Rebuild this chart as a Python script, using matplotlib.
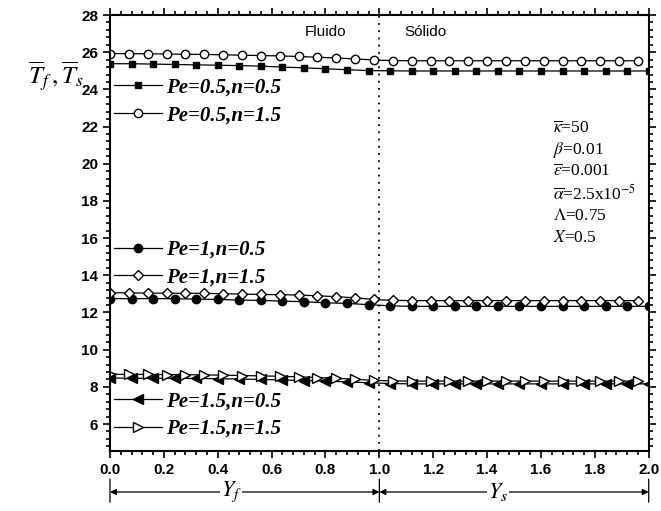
"""
Temperature profiles Tf, Ts across fluid / solid regions.
"""
import matplotlib
matplotlib.use("Agg")
import matplotlib.pyplot as plt
from matplotlib.ticker import MultipleLocator

plt.rcParams["mathtext.fontset"] = "stix"
SANS = "Liberation Sans"; SERIF = "Liberation Serif"

# marker positions (Origin skips points, so two spacings)
x_a = [0.00, 0.08, 0.16, 0.24, 0.32, 0.40, 0.48, 0.56, 0.64, 0.72, 0.80, 0.88, 0.96,
       1.04, 1.12, 1.20, 1.28, 1.36, 1.44, 1.52, 1.60, 1.68, 1.76, 1.84, 1.92, 2.00]
x_b = [0.00, 0.07, 0.14, 0.21, 0.28, 0.35, 0.42, 0.49, 0.56, 0.63, 0.70, 0.77, 0.84,
       0.91, 0.98, 1.05, 1.12, 1.19, 1.26, 1.33, 1.40, 1.47, 1.54, 1.61, 1.68, 1.75,
       1.82, 1.89, 1.96]

t_pe05_n05 = [25.38, 25.38, 25.36, 25.34, 25.32, 25.30, 25.28, 25.25, 25.20, 25.16,
              25.11, 25.06, 25.01, 25.00, 24.99, 24.99, 24.99, 24.99, 24.99, 24.99,
              24.99, 24.99, 24.99, 24.99, 24.99, 24.99]
t_pe05_n15 = [25.93, 25.92, 25.92, 25.90, 25.89, 25.88, 25.86, 25.84, 25.82, 25.80,
              25.77, 25.73, 25.69, 25.64, 25.58, 25.55, 25.54, 25.54, 25.54, 25.54,
              25.54, 25.54, 25.54, 25.54, 25.54, 25.54, 25.54, 25.54, 25.54]
t_pe1_n05 = [12.75, 12.74, 12.75, 12.74, 12.72, 12.70, 12.67, 12.65, 12.61, 12.58,
             12.52, 12.49, 12.42, 12.36, 12.33, 12.33, 12.33, 12.33, 12.33, 12.33,
             12.33, 12.33, 12.33, 12.33, 12.33, 12.33]
t_pe1_n15 = [13.06, 13.06, 13.04, 13.04, 13.03, 13.03, 13.01, 12.99, 12.97, 12.96,
             12.94, 12.90, 12.85, 12.79, 12.70, 12.65, 12.64, 12.64, 12.64, 12.64,
             12.64, 12.64, 12.64, 12.64, 12.64, 12.64, 12.64, 12.64, 12.64]
t_pe15_n05 = [8.48, 8.46, 8.46, 8.46, 8.45, 8.44, 8.42, 8.40, 8.37, 8.34,
              8.31, 8.27, 8.22, 8.18, 8.16, 8.16, 8.16, 8.16, 8.16, 8.16,
              8.16, 8.16, 8.16, 8.16, 8.16, 8.16]
t_pe15_n15 = [8.68, 8.67, 8.67, 8.66, 8.66, 8.64, 8.63, 8.61, 8.59, 8.57,
              8.54, 8.50, 8.46, 8.41, 8.35, 8.32, 8.31, 8.31, 8.31, 8.31,
              8.31, 8.31, 8.31, 8.31, 8.31, 8.31, 8.31, 8.31, 8.31]

labels = ["Pe=0.5,n=0.5", "Pe=0.5,n=1.5", "Pe=1,n=0.5",
          "Pe=1,n=1.5", "Pe=1.5,n=0.5", "Pe=1.5,n=1.5"]

params = [r"$\overline{\kappa}$=50", r"$\beta$=0.01", r"$\overline{\varepsilon}$=0.001",
          r"$\overline{\alpha}$=2.5x10$^{-5}$", r"$\Lambda$=0.75", r"$X$=0.5"]

fig = plt.figure(figsize=(6.61, 5.11), dpi=100)
ax = fig.add_axes([0.1664, 0.1174, 0.815, 0.8532])

kw = dict(color="black", linewidth=0.9)
l1, = ax.plot(x_a, t_pe05_n05, marker="s", ms=5, mfc="black", mec="black", **kw)
l2, = ax.plot(x_b, t_pe05_n15, marker="o", ms=6, mfc="white", mec="black", **kw)
l3, = ax.plot(x_a, t_pe1_n05, marker="o", ms=6, mfc="black", mec="black", **kw)
l4, = ax.plot(x_b, t_pe1_n15, marker="D", ms=5, mfc="white", mec="black", **kw)
l5, = ax.plot(x_a, t_pe15_n05, marker="<", ms=6.5, mfc="black", mec="black", **kw)
l6, = ax.plot(x_b, t_pe15_n15, marker=">", ms=6.5, mfc="white", mec="black", **kw)

ax.set_xlim(0, 2.0)
ax.set_ylim(4.55, 28)
ax.xaxis.set_major_locator(MultipleLocator(0.2))
ax.xaxis.set_minor_locator(MultipleLocator(0.04))
ax.yaxis.set_major_locator(MultipleLocator(2))
ax.yaxis.set_minor_locator(MultipleLocator(0.4))
ax.set_yticks([6, 8, 10, 12, 14, 16, 18, 20, 22, 24, 26, 28])
ax.xaxis.set_major_formatter(lambda v, p: f"{v:.1f}")
ax.tick_params(which="both", direction="out", top=True, right=True, width=1.2)
ax.tick_params(which="major", length=5)
ax.tick_params(which="minor", length=3)
for s in ax.spines.values():
    s.set_linewidth(1.5)
for t in ax.get_xticklabels() + ax.get_yticklabels():
    t.set_fontfamily(SANS); t.set_fontweight("bold"); t.set_fontsize(11)

ax.axvline(1.0, color="black", linestyle=(0, (1, 3)), linewidth=1.3)
ax.text(0.80, 27.1, "Fluido", family=SANS, fontsize=11, ha="center", va="center")
ax.text(1.17, 27.1, "Sólido", family=SANS, fontsize=11, ha="center", va="center")

for i, p in enumerate(params):
    ax.text(1.645, 21.9 - i * 1.18, p, family=SERIF, fontsize=12.5, ha="left", va="center")

lprop = dict(family=SERIF, weight="bold", style="italic", size=15)
legkw = dict(frameon=False, prop=lprop, handlelength=2.3, handletextpad=0.2,
             labelspacing=0.36, borderaxespad=0, borderpad=0.2, loc="upper left")
leg1 = ax.legend([l1, l2], labels[0:2], bbox_to_anchor=(0.0, 0.866), **legkw)
ax.add_artist(leg1)
leg2 = ax.legend([l3, l4], labels[2:4], bbox_to_anchor=(0.0, 0.494), **legkw)
ax.add_artist(leg2)
ax.legend([l5, l6], labels[4:6], bbox_to_anchor=(0.0, 0.146), **legkw)

fig.text(0.042, 0.852, r"$\overline{T}_f\,,\overline{T}_s$", fontsize=18,
         ha="left", va="center")

# region brackets below the x axis
tr = ("data", "axes fraction")
for xb in (0.0, 1.0, 2.0):
    ax.annotate("", xy=(xb, -0.058), xytext=(xb, -0.124), xycoords=tr,
                textcoords=tr, arrowprops=dict(arrowstyle="-", lw=0.9))
for x0, x1 in ((0.0, 1.0), (1.0, 2.0)):
    ax.annotate("", xy=(x0, -0.094), xytext=(x1, -0.094), xycoords=tr,
                textcoords=tr, arrowprops=dict(arrowstyle="<|-|>", lw=0.9,
                                               mutation_scale=9, color="black",
                                               shrinkA=0, shrinkB=0))
ax.text(0.45, -0.094, r"$Y_f$", transform=ax.get_xaxis_transform(), fontsize=16,
        ha="center", va="center", bbox=dict(facecolor="white", edgecolor="none", pad=0.5))
ax.text(1.44, -0.094, r"$Y_s$", transform=ax.get_xaxis_transform(), fontsize=16,
        ha="center", va="center", bbox=dict(facecolor="white", edgecolor="none", pad=0.5))

fig.savefig("out.png", dpi=100)
